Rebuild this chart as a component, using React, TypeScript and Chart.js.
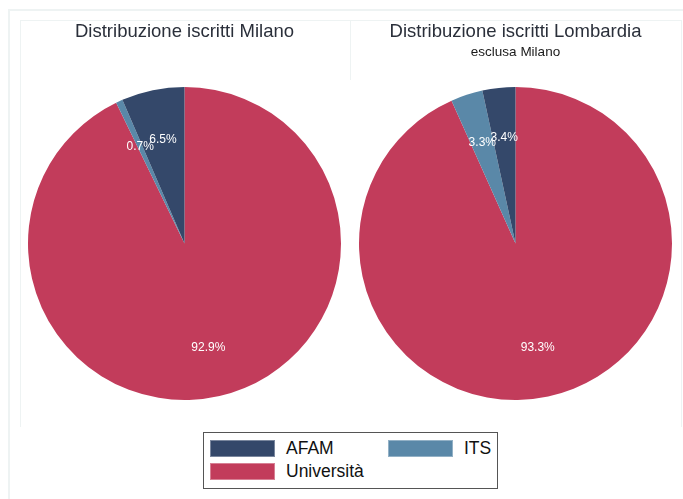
import React, { useEffect, useRef } from "react";
import { Chart, registerables } from "chart.js";

Chart.register(...registerables);

// Categories in legend order
const categories = ["AFAM", "ITS", "Università"];
// Percent values, legend order
const milanoValues = [6.5, 0.7, 92.9];
const lombardiaValues = [3.4, 3.3, 93.3];
const colors = ["#34486a", "#5a88a8", "#c23c5b"];

const titleMilano = "Distribuzione iscritti Milano";
const titleLombardia = "Distribuzione iscritti Lombardia";
const subtitleLombardia = "esclusa Milano";

const FONT = "'Liberation Sans', Arial, Helvetica, sans-serif";

const labelPlugin = {
  id: "pieLabels",
  afterDatasetsDraw(chart: any) {
    const ctx = chart.ctx;
    const meta = chart.getDatasetMeta(0);
    const data = chart.data.datasets[0].data as number[];
    ctx.save();
    ctx.fillStyle = "#ffffff";
    ctx.font = `12px ${FONT}`;
    ctx.textAlign = "center";
    ctx.textBaseline = "middle";
    meta.data.forEach((arc: any, i: number) => {
      const mid = (arc.startAngle + arc.endAngle) / 2;
      const r = arc.outerRadius * 0.68;
      const x = arc.x + Math.cos(mid) * r;
      const y = arc.y + Math.sin(mid) * r;
      ctx.fillText(data[i].toFixed(1) + "%", x, y);
    });
    ctx.restore();
  },
};

function PieChart({ values, title, subtitle }: { values: number[]; title: string; subtitle: string }) {
  const ref = useRef<HTMLCanvasElement | null>(null);
  useEffect(() => {
    if (!ref.current) return;
    // draw order: Università, ITS, AFAM clockwise from 12 o'clock
    const order = [2, 1, 0];
    const chart = new Chart(ref.current, {
      type: "pie",
      data: {
        labels: order.map((i) => categories[i]),
        datasets: [
          {
            data: order.map((i) => values[i]),
            backgroundColor: order.map((i) => colors[i]),
            borderWidth: 0,
          },
        ],
      },
      options: {
        animation: false,
        responsive: false,
        radius: 156.5,
        layout: { padding: { left: 0, right: 1, top: 0, bottom: 3.1 } },
        plugins: {
          legend: { display: false },
          tooltip: { enabled: false },
          title: {
            display: true,
            text: title,
            color: "#2a2f3a",
            font: { family: FONT, size: 18.5, weight: "normal" },
            padding: { top: 1, bottom: 0 },
          },
          subtitle: {
            display: true,
            text: subtitle,
            color: "#1a1a1a",
            font: { family: FONT, size: 13.5, weight: "normal" },
            padding: { top: 0.7, bottom: 0 },
          },
        },
      } as any,
      plugins: [labelPlugin],
    });
    return () => chart.destroy();
  }, [values, title, subtitle]);
  return <canvas ref={ref} width={330} height={410} style={{ width: 330, height: 410, display: "block" }} />;
}

function LegendItem({ color, label, left, top }: { color: string; label: string; left: number; top: number }) {
  return (
    <>
      <div
        style={{
          position: "absolute",
          left,
          top,
          width: 65,
          height: 17,
          background: color,
          boxSizing: "border-box",
          border: "1px solid rgba(255,255,255,0.35)",
        }}
      />
      <div
        style={{
          position: "absolute",
          left: left + 76,
          top: top - 3,
          fontFamily: FONT,
          fontSize: 17.5,
          lineHeight: "22px",
          color: "#111",
          whiteSpace: "nowrap",
        }}
      >
        {label}
      </div>
    </>
  );
}

const LINE = "#eef3f3";

export default function App() {
  return (
    <div style={{ position: "fixed", left: 0, top: 0, width: 683, height: 499, background: "#fff", overflow: "hidden" }}>
      {/* outer frame */}
      <div
        style={{
          position: "absolute",
          left: 8,
          top: 9,
          width: 700,
          height: 520,
          border: `2px solid ${LINE}`,
          boxSizing: "border-box",
        }}
      />
      {/* plot region frame (no bottom edge) */}
      <div style={{ position: "absolute", left: 20, top: 20, width: 662, height: 1, background: LINE }} />
      <div style={{ position: "absolute", left: 20, top: 20, width: 1, height: 407, background: LINE }} />
      <div style={{ position: "absolute", left: 681, top: 20, width: 1, height: 407, background: LINE }} />
      <div style={{ position: "absolute", left: 350, top: 20, width: 1, height: 60, background: LINE }} />
      <div style={{ position: "absolute", left: 20, top: 20 }}>
        <PieChart values={milanoValues} title={titleMilano} subtitle={" "} />
      </div>
      <div style={{ position: "absolute", left: 351, top: 20 }}>
        <PieChart values={lombardiaValues} title={titleLombardia} subtitle={subtitleLombardia} />
      </div>
      {/* legend */}
      <div
        style={{
          position: "absolute",
          left: 203,
          top: 432,
          width: 295,
          height: 57,
          border: "1px solid #555",
          boxSizing: "border-box",
        }}
      />
      <LegendItem color={colors[0]} label={categories[0]} left={210} top={440} />
      <LegendItem color={colors[1]} label={categories[1]} left={388} top={440} />
      <LegendItem color={colors[2]} label={categories[2]} left={210} top={463} />
    </div>
  );
}
